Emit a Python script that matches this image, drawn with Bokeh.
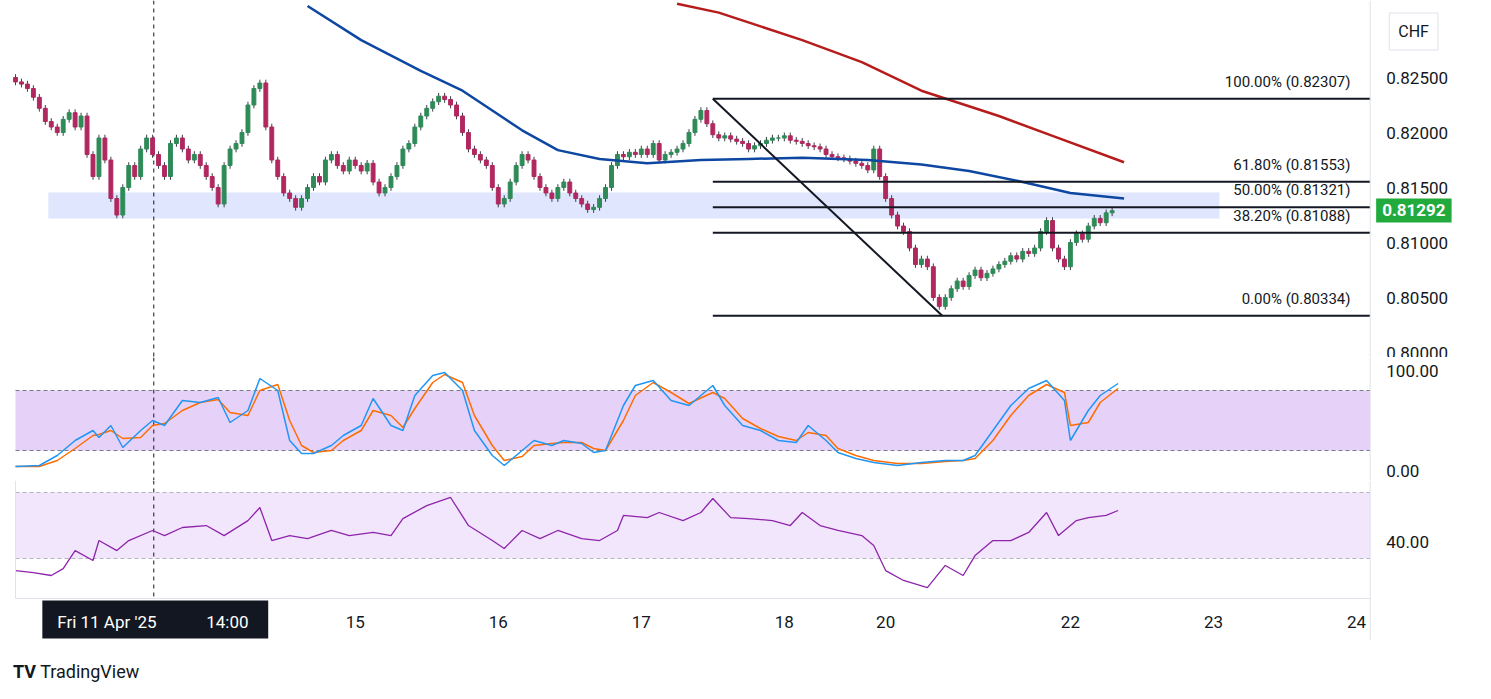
from bokeh.plotting import figure
from bokeh.layouts import column
from bokeh.models import ColumnDataSource, Range1d, Label, Span, BoxAnnotation, Div
from bokeh.embed import file_html
from bokeh.resources import INLINE

FONT = "Roboto"

# hourly closes, bar index 0..184
closes = [
    0.8246, 0.8244, 0.8240, 0.8232, 0.8222, 0.8210,
    0.8205, 0.8200, 0.8212, 0.8218, 0.8205,
    0.8215, 0.8180, 0.8160, 0.8195, 0.8175, 0.8140, 0.8125,
    0.8150, 0.8170, 0.8160, 0.8185, 0.8195,
    0.8180, 0.8170, 0.8160, 0.8190, 0.8195,
    0.8185, 0.8175, 0.8180, 0.8170, 0.8160,
    0.8150, 0.8135, 0.8170, 0.8185, 0.8190,
    0.8200, 0.8225, 0.8240, 0.8245, 0.8205,
    0.8175, 0.8160, 0.8145, 0.8140, 0.8132,
    0.8140, 0.8150, 0.8160, 0.8155, 0.8175,
    0.8180, 0.8170, 0.8165, 0.8175, 0.8170,
    0.8165, 0.8172, 0.8155, 0.8145, 0.8150,
    0.8160, 0.8170, 0.8185, 0.8190, 0.8205,
    0.8215, 0.8222, 0.8228, 0.8233, 0.8230,
    0.8225, 0.8215, 0.8200, 0.8185, 0.8180,
    0.8175, 0.8170, 0.8150, 0.8135, 0.8140,
    0.8155, 0.8170, 0.8180, 0.8175, 0.8160,
    0.8150, 0.8145, 0.8140, 0.8150, 0.8155,
    0.8145, 0.8140, 0.8135, 0.8130, 0.8132,
    0.8140, 0.8150, 0.8170, 0.8180, 0.8178,
    0.8182, 0.8180, 0.8185, 0.8180, 0.8190,
    0.8175, 0.8180, 0.8182, 0.8185, 0.8190,
    0.8200, 0.8212, 0.8220, 0.8208, 0.8198,
    0.8195, 0.8197, 0.8194, 0.8192, 0.8190,
    0.8185, 0.8188, 0.8190, 0.8193, 0.8195,
    0.8195, 0.8197, 0.8193, 0.8192, 0.8190,
    0.8188, 0.8187, 0.8185, 0.8180, 0.8178,
    0.8177, 0.8176, 0.8174, 0.8172, 0.8170,
    0.8166, 0.8185, 0.8160, 0.8140, 0.8125,
    0.8115, 0.8110, 0.8095, 0.8080, 0.8085,
    0.8078, 0.8050, 0.8042, 0.8050, 0.8058,
    0.8065, 0.8060, 0.8070, 0.8075, 0.8068,
    0.8072, 0.8076, 0.8080, 0.8083, 0.8088,
    0.8085, 0.8092, 0.8090, 0.8095, 0.8110,
    0.8120, 0.8095, 0.8085, 0.8078, 0.8100,
    0.8108, 0.8103, 0.8115, 0.8122, 0.8118,
    0.8127, 0.8129,
]
first_open = 0.8250
wick = 0.0003

ma100_x = [49, 58, 68, 75, 80, 85, 91, 98, 106, 115, 123, 132, 143, 152, 160, 169, 177, 186]
ma100_y = [0.8315, 0.8284, 0.8256, 0.8238, 0.8220, 0.8202, 0.8184, 0.8176, 0.8172, 0.8175,
           0.8176, 0.8177, 0.8175, 0.8171, 0.8165, 0.8155, 0.8145, 0.8140]
ma200_x = [111, 118, 132, 142, 152, 165, 174, 186]
ma200_y = [0.8317, 0.8309, 0.8284, 0.8264, 0.8238, 0.8215, 0.8197, 0.8173]

fib_levels = [0.82307, 0.81553, 0.81321, 0.81088, 0.80334]
fib_names = ["100.00%", "61.80%", "50.00%", "38.20%", "0.00%"]
fib_start = 117
diag_x = [117, 155.5]
diag_y = [0.82307, 0.80334]
zone = (0.81218, 0.81455)
zone_x = (5.5, 202)
last_price = 0.81292

stoch_x = [0, 4, 7, 10, 13, 14, 16, 18, 21, 23, 25, 28, 31, 34, 36, 39, 41, 44, 46, 48, 50, 53,
           55, 58, 60, 63, 65, 67, 70, 72, 75, 77, 80, 82, 85, 87, 90, 92, 95, 97, 99, 102, 104,
           107, 110, 113, 117, 119, 122, 125, 128, 131, 133, 136, 138, 141, 144, 148, 152, 156,
           159, 161, 164, 167, 170, 173, 176, 177, 180, 182, 185]
stoch_k = [4, 5, 15, 30, 40, 33, 45, 23, 40, 50, 45, 70, 68, 73, 48, 60, 92, 80, 30, 17, 17, 25,
           35, 45, 72, 45, 40, 75, 95, 98, 80, 40, 15, 5, 20, 30, 25, 30, 27, 18, 20, 65, 85,
           90, 70, 65, 85, 65, 45, 40, 30, 28, 45, 30, 18, 12, 8, 5, 8, 10,
           10, 15, 40, 65, 82, 90, 70, 30, 60, 75, 87]
stoch_d = [4, 4, 10, 22, 35, 36, 40, 32, 33, 45, 47, 60, 68, 71, 58, 55, 80, 86, 50, 25, 18, 20,
           30, 40, 60, 55, 43, 62, 88, 96, 88, 55, 25, 10, 14, 25, 27, 28, 28, 22, 20, 50, 75,
           88, 78, 67, 78, 72, 52, 42, 34, 30, 38, 35, 22, 15, 10, 7, 7, 9,
           10, 12, 30, 55, 75, 86, 78, 45, 48, 68, 82]

rsi_x = [0, 3, 6, 8, 10, 13, 14, 17, 19, 23, 25, 28, 32, 35, 39, 41, 43, 46, 49, 53, 56, 60,
         63, 65, 69, 73, 76, 80, 82, 85, 88, 91, 95, 98, 101, 102, 106, 108, 112, 115, 117, 120,
         123, 127, 130, 132, 135, 138, 142, 144, 146, 149, 153, 156, 159, 161, 164, 167, 170,
         173, 175, 178, 180, 183, 185]
rsi_v = [22.7, 21.5, 19.7, 23.9, 34.8, 28.8, 40.9, 34.8, 40.9, 47.0, 43.9, 48.8, 50.0, 43.9,
         53.0, 60.9, 40.9, 43.9, 42.1, 47.0, 43.9, 45.8, 43.9, 54.2, 62.1, 67.0, 50.0, 40.9,
         36.1, 47.0, 42.1, 47.0, 42.1, 40.9, 47.0, 56.1, 54.8, 57.9, 53.0, 57.9, 66.4, 54.8,
         54.2, 53.0, 50.0, 57.9, 50.0, 47.0, 43.9, 37.9, 22.7, 16.7, 12.4, 25.8, 19.7, 31.8,
         40.9, 40.9, 45.8, 57.9, 43.9, 53.0, 54.8, 56.1, 59.1]

date_ticks = [57, 81, 105, 129, 146, 177, 201, 225]
date_labels = ["15", "16", "17", "18", "20", "22", "23", "24"]
cross_x = 23.2
cross_date, cross_time = "Fri 11 Apr '25", "14:00"

UP, DOWN = "#2e8b57", "#b0285f"
GRID = "#e0e3eb"
INK = "#131722"
W = 1475
X_START = 0.0      # left edge of the panels
X_END = 227.3      # right edge of the plotting area, price scale lies beyond
AXIS_X = 230.0
xr = Range1d(-2.52, 244.97)


def base(height, yr):
    p = figure(width=W, height=height, x_range=xr, y_range=yr, output_backend="svg",
               toolbar_location=None, min_border=0)
    p.axis.visible = False
    p.grid.visible = False
    p.outline_line_color = None
    p.add_layout(Span(location=X_END, dimension="height", line_color=GRID, line_width=1))
    return p


def axis_text(p, y, text, size="17px"):
    p.add_layout(Label(x=AXIS_X, y=y, text=text, text_baseline="middle", text_font=FONT,
                       text_font_size=size, text_color=INK))


def hline(p, y):
    p.segment(X_START, y, X_END, y, color=GRID, line_width=1)


def vcross(p, top, bottom):
    p.segment(cross_x, top, cross_x, bottom, color=INK, line_dash="4 4", line_width=1)


# price panel
price_ticks = [0.800, 0.805, 0.810, 0.815, 0.820, 0.825]
price = base(357, Range1d(0.79955, 0.83200))
opens = [first_open] + closes[:-1]
idx = list(range(len(closes)))
src = ColumnDataSource(dict(
    x=idx, o=opens, c=closes,
    h=[max(o, c) + wick for o, c in zip(opens, closes)],
    l=[min(o, c) - wick for o, c in zip(opens, closes)],
    col=[UP if c >= o else DOWN for o, c in zip(opens, closes)],
))
price.add_layout(BoxAnnotation(left=zone_x[0], right=zone_x[1], bottom=zone[0], top=zone[1],
                               fill_color="#c9d6fb", fill_alpha=0.6, line_color=None,
                               level="underlay"))
vcross(price, 0.83200, 0.79955)
price.segment("x", "h", "x", "l", color="#3b3f48", source=src, line_width=1)
price.vbar("x", 0.65, "o", "c", fill_color="col", line_color="col", source=src)
price.line(ma100_x, ma100_y, color="#0d47a1", line_width=2.5)
price.line(ma200_x, ma200_y, color="#b71c1c", line_width=2.5)
for lev, name in zip(fib_levels, fib_names):
    price.segment(fib_start, lev, X_END, lev, color=INK, line_width=2)
    price.add_layout(Label(x=224, y=lev, text=f"{name} ({lev:.5f})", text_align="right",
                           y_offset=8, text_font=FONT, text_font_size="15px", text_color=INK))
price.line(diag_x, diag_y, color=INK, line_width=2)
for t in price_ticks:
    axis_text(price, t, f"{t:.5f}")
price.add_layout(Label(x=228.3, y=last_price, text=f"{last_price:.5f}",
                       text_baseline="middle", text_font=FONT, text_font_size="17px",
                       text_font_style="bold", text_color="white",
                       background_fill_color="#22ab3c", padding=6))
price.add_layout(Label(x=230.5, y=0.82918, text="CHF", text_baseline="middle",
                       text_font=FONT, text_font_size="16px", text_color=INK,
                       border_line_color=GRID, background_fill_color="white", padding=9))
hline(price, 0.79955)

# stochastic panel
stoch = base(123, Range1d(-10, 113))
stoch.add_layout(BoxAnnotation(bottom=20, top=80, left=X_START, right=X_END,
                               fill_color="#c79bef", fill_alpha=0.45, line_color=None,
                               level="underlay"))
for lv in (20, 80):
    stoch.segment(X_START, lv, X_END, lv, line_dash="4 3", line_color="#787b86", line_width=1)
vcross(stoch, 113, -10)
stoch.line(stoch_x, stoch_d, color="#ff6d00", line_width=1.5)
stoch.line(stoch_x, stoch_k, color="#2196f3", line_width=1.5)
axis_text(stoch, 100, "100.00")
axis_text(stoch, 0, "0.00")
hline(stoch, -10)

# rsi panel with the time scale below it
rsi = base(160, Range1d(-19.7, 77.3))
rsi.add_layout(BoxAnnotation(bottom=30, top=70, left=X_START, right=X_END,
                             fill_color="#e9d5fb", fill_alpha=0.6, line_color=None,
                             level="underlay"))
for lv in (30, 70):
    rsi.segment(X_START, lv, X_END, lv, line_dash="4 3", line_color="#b2b5be", line_width=1)
vcross(rsi, 77.3, 5.8)
rsi.line(rsi_x, rsi_v, color="#8e24aa", line_width=1.3)
axis_text(rsi, 40, "40.00")
hline(rsi, 5.8)
rsi.segment(X_START, 77.3, X_START, 5.8, color=GRID, line_width=1)
for t, lab in zip(date_ticks, date_labels):
    rsi.add_layout(Label(x=t, y=-8.2, text=lab, text_align="center", text_baseline="middle",
                         text_font=FONT, text_font_size="17px", text_color=INK))
rsi.quad(left=4.5, right=42.4, top=4.5, bottom=-18.5, fill_color=INK, line_color=None)
rsi.add_layout(Label(x=7.0, y=-8.2, text=cross_date, text_baseline="middle",
                     text_font=FONT, text_font_size="17px", text_color="white"))
rsi.add_layout(Label(x=32.0, y=-8.2, text=cross_time, text_baseline="middle",
                     text_font=FONT, text_font_size="17px", text_color="white"))

logo = Div(text='<div style="font-family:Roboto;font-size:18px;color:#131722;'
                'padding-top:14px;padding-left:8px;"><b>TV</b> TradingView</div>',
           width=300, height=40)

out = column(price, stoch, rsi, logo, spacing=0)
open("out.html", "w").write(file_html(out, INLINE))
